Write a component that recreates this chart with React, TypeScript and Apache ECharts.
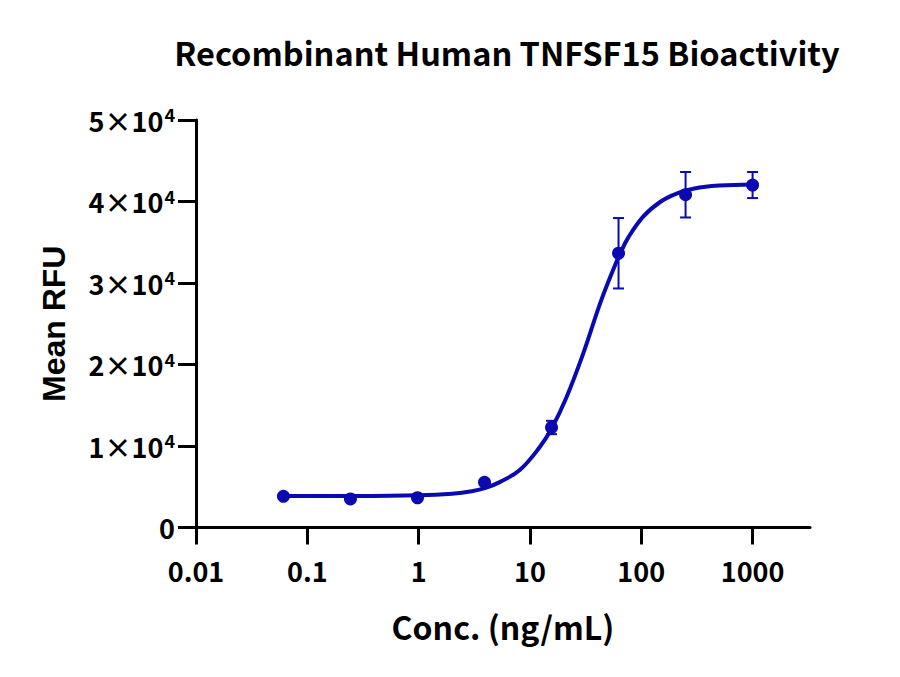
import React, { useEffect, useRef } from "react";
import * as echarts from "echarts";

// Measured points
const concentrations = [0.061, 0.244, 0.977, 3.906, 15.625, 62.5, 250, 1000];
const meanRFU = [3830, 3500, 3650, 5540, 12270, 33650, 40830, 42020];
const errorRFU = [0, 0, 0, 0, 820, 4320, 2790, 1600];

// Fitted curve
const curveConc = [0.061, 0.25, 1, 2, 3, 4, 5.4, 8.1, 12.3, 15.7, 21.4, 30.2, 42.7, 56.2, 64.6, 76.6, 105, 150, 210, 300, 500, 1000];
const curveRFU = [3850, 3860, 3950, 4150, 4450, 4850, 5600, 7050, 9900, 12170, 16050, 21400, 27500, 31700, 33600, 35600, 38200, 40000, 41000, 41600, 41950, 42100];

const xTicks = [0.01, 0.1, 1, 10, 100, 1000];

const TITLE = "Recombinant Human TNFSF15 Bioactivity";
const X_TITLE = "Conc. (ng/mL)";
const Y_TITLE = "Mean RFU";

const BLUE = "#0a0ab0";
const SANS = "'Noto Sans CJK SC', 'Noto Sans', sans-serif";

export default function App() {
  const ref = useRef<HTMLDivElement>(null);
  useEffect(() => {
    if (!ref.current) return;
    const chart = echarts.init(ref.current, undefined, { renderer: "svg" });
    const points = concentrations.map((c, i) => [c, meanRFU[i]]);
    const errs = concentrations
      .map((c, i) => [c, meanRFU[i], meanRFU[i] + errorRFU[i], meanRFU[i] - errorRFU[i], errorRFU[i]])
      .filter((d) => d[4] > 0);
    const curve = curveConc.map((c, i) => [c, curveRFU[i]]);

    chart.setOption({
      animation: false,
      backgroundColor: "#ffffff",
      title: {
        text: TITLE,
        left: 502,
        top: 30,
        textAlign: "center",
        textStyle: { fontFamily: SANS, fontWeight: "bold", fontSize: 32.5, color: "#000" },
      },
      grid: { left: 196, top: 120, width: 614, height: 407.5, containLabel: false },
      xAxis: {
        type: "log",
        logBase: 10,
        min: 0.01,
        max: 3280,
        name: X_TITLE,
        nameLocation: "middle",
        nameGap: 82,
        nameTextStyle: { fontFamily: SANS, fontWeight: "bold", fontSize: 32, color: "#000" },
        axisLine: { show: true, lineStyle: { color: "#000", width: 3 } },
        axisTick: { show: true, length: 17, lineStyle: { color: "#000", width: 3 }, customValues: xTicks },
        axisLabel: {
          customValues: xTicks,
          margin: 29,
          fontFamily: SANS,
          fontWeight: "bold",
          fontSize: 27,
          color: "#000",
          formatter: (v: number) => String(v),
        },
        splitLine: { show: false },
        minorTick: { show: false },
      },
      yAxis: {
        type: "value",
        min: 0,
        max: 50000,
        interval: 10000,
        name: Y_TITLE,
        nameLocation: "middle",
        nameGap: 126,
        nameRotate: 90,
        nameTextStyle: { fontFamily: "'Liberation Sans', Arial, sans-serif", fontWeight: "bold", fontSize: 32, color: "#000" },
        axisLine: { show: true, lineStyle: { color: "#000", width: 3 } },
        axisTick: { show: true, length: 18, lineStyle: { color: "#000", width: 3 } },
        axisLabel: {
          margin: 21,
          fontFamily: SANS,
          fontWeight: "bold",
          fontSize: 27,
          color: "#000",
          formatter: (v: number) => (v === 0 ? "{b|0}" : `{b|${v / 10000}×10}{s|4}`),
          rich: {
            b: { fontFamily: SANS, fontWeight: "bold", fontSize: 27, lineHeight: 30, color: "#000" },
            s: { fontFamily: SANS, fontWeight: "bold", fontSize: 18, lineHeight: 30, verticalAlign: "top", color: "#000", padding: [0, 0, 0, 1] },
          },
        },
        splitLine: { show: false },
      },
      series: [
        {
          type: "line",
          data: curve,
          smooth: 0.4,
          showSymbol: false,
          symbol: "none",
          lineStyle: { color: BLUE, width: 4 },
          z: 2,
        },
        {
          type: "custom",
          data: errs,
          z: 3,
          renderItem: (params: any, api: any) => {
            const x = api.value(0);
            const top = api.coord([x, api.value(2)]);
            const bot = api.coord([x, api.value(3)]);
            const cap = 5.5;
            const style = { stroke: BLUE, lineWidth: 2 };
            return {
              type: "group",
              children: [
                { type: "line", shape: { x1: top[0], y1: top[1], x2: bot[0], y2: bot[1] }, style },
                { type: "line", shape: { x1: top[0] - cap, y1: top[1], x2: top[0] + cap, y2: top[1] }, style },
                { type: "line", shape: { x1: bot[0] - cap, y1: bot[1], x2: bot[0] + cap, y2: bot[1] }, style },
              ],
            };
          },
        },
        {
          type: "scatter",
          data: points,
          symbol: "circle",
          symbolSize: 13,
          itemStyle: { color: BLUE, opacity: 1 },
          z: 4,
        },
      ],
    });
    return () => chart.dispose();
  }, []);
  return <div ref={ref} style={{ position: "absolute", left: 0, top: 0, width: 900, height: 677 }} />;
}
